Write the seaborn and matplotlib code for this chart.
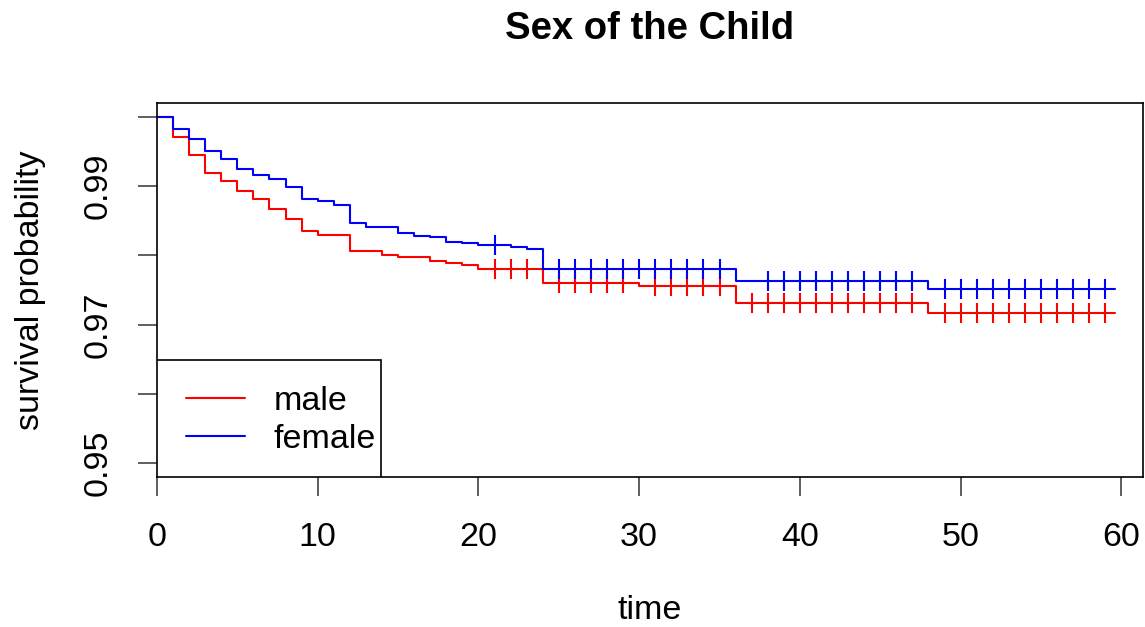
import numpy as np
import pandas as pd
import matplotlib
matplotlib.use("Agg")
import matplotlib.pyplot as plt
from matplotlib.patches import Rectangle
from matplotlib.lines import Line2D
import seaborn as sns

# ---- data ----
male_time = [0, 1, 2, 3, 4, 5, 6, 7, 8, 9, 10, 12, 14, 15, 17, 18, 19, 20, 24, 30, 36, 48, 59.6]
male_surv = [1.0, 0.99716, 0.99446, 0.99196, 0.99080, 0.98935, 0.98820, 0.98675, 0.98530,
             0.98357, 0.98295, 0.98064, 0.98006, 0.97972, 0.97914, 0.97888, 0.97860, 0.97800,
             0.97608, 0.97563, 0.97305, 0.97172, 0.97172]
male_censor = [21, 22, 23, 25, 26, 27, 28, 29, 31, 32, 33, 34, 35,
               37, 38, 39, 40, 41, 42, 43, 44, 45, 46, 47,
               49, 50, 51, 52, 53, 54, 55, 56, 57, 58, 59]

female_time = [0, 1, 2, 3, 4, 5, 6, 7, 8, 9, 10, 11, 12, 13, 15, 16, 17, 18, 19, 20, 22, 23, 24, 36, 48, 59.6]
female_surv = [1.0, 0.99822, 0.99678, 0.99509, 0.99389, 0.99244, 0.99157, 0.99104, 0.98984,
               0.98815, 0.98786, 0.98724, 0.98464, 0.98410, 0.98324, 0.98285, 0.98261, 0.98198,
               0.98172, 0.98145, 0.98120, 0.98090, 0.97799, 0.97628, 0.97510, 0.97510]
female_censor = [21, 25, 26, 27, 28, 29, 30, 31, 32, 33, 34, 35,
                 38, 39, 40, 41, 42, 43, 44, 45, 46, 47,
                 49, 50, 51, 52, 53, 54, 55, 56, 57, 58, 59]

groups = ["male", "female"]
colors = {"male": "#FF0000", "female": "#0000FF"}
x_ticks = [0, 10, 20, 30, 40, 50, 60]
y_ticks = [0.95, 0.96, 0.97, 0.98, 0.99, 1.00]
y_tick_labels = ["0.95", "", "0.97", "", "0.99", ""]
title = "Sex of the Child"
x_label = "time"
y_label = "survival probability"

# ---- build tables ----
curves = pd.concat([
    pd.DataFrame({"time": male_time, "surv": male_surv, "sex": "male"}),
    pd.DataFrame({"time": female_time, "surv": female_surv, "sex": "female"}),
], ignore_index=True)


def surv_at(times, survs, t):
    idx = np.searchsorted(times, t, side="right") - 1
    return np.asarray(survs)[idx]


censors = pd.concat([
    pd.DataFrame({"time": male_censor,
                  "surv": surv_at(male_time, male_surv, male_censor), "sex": "male"}),
    pd.DataFrame({"time": female_censor,
                  "surv": surv_at(female_time, female_surv, female_censor), "sex": "female"}),
], ignore_index=True)

# ---- plot ----
sns.set_theme(style="white")
plt.rcParams["font.family"] = ["Liberation Sans", "DejaVu Sans"]
plt.rcParams["text.color"] = "black"
plt.rcParams["axes.labelcolor"] = "black"
plt.rcParams["xtick.color"] = "black"
plt.rcParams["ytick.color"] = "black"

fig = plt.figure(figsize=(11.45, 6.27), dpi=100)
ax = fig.add_axes([0.1371, 0.2388, 0.8609, 0.5964])

for g in groups:
    sns.lineplot(data=curves[curves.sex == g], x="time", y="surv", ax=ax,
                 color=colors[g], drawstyle="steps-post", linewidth=1.5,
                 estimator=None, sort=False, legend=False)
    sns.scatterplot(data=censors[censors.sex == g], x="time", y="surv", ax=ax,
                    color=colors[g], marker="|", s=225, linewidth=1.5, legend=False)

ax.set_xlim(0, 61.33)
ax.set_ylim(0.94793, 1.00198)
ax.set_xticks(x_ticks)
ax.set_xticklabels([str(v) for v in x_ticks])
ax.set_yticks(y_ticks)
ax.set_yticklabels(y_tick_labels, rotation=90, va="center")

for s in ax.spines.values():
    s.set_color("black")
    s.set_linewidth(1.2)

ax.tick_params(axis="both", which="major", direction="out", length=13.5, width=1.1,
               color="#333333", labelsize=24.5, labelcolor="black", bottom=True, left=True)
ax.tick_params(axis="x", pad=19)
ax.tick_params(axis="y", pad=18)

ax.set_xlabel(x_label, fontsize=24.5, labelpad=30, color="black")
ax.set_ylabel(y_label, fontsize=24.5, labelpad=26, color="black")
ax.set_title(title, fontsize=27.5, fontweight="bold", pad=46, color="black")

# legend box like R's legend()
ax.add_patch(Rectangle((0, 0), 0.2273, 0.3136, transform=ax.transAxes,
                       facecolor="white", edgecolor="black", linewidth=1.2, zorder=5))
handles = [Line2D([], [], color=colors[g], linewidth=1.5) for g in groups]
leg = ax.legend(handles, groups, loc="upper left", bbox_to_anchor=(0.0091, 0.2976),
                frameon=False, fontsize=24.5, handlelength=1.72, handletextpad=0.84,
                labelspacing=0.2, borderpad=0.6, borderaxespad=0.0, labelcolor="black")
leg.set_zorder(6)

fig.savefig("out.png", dpi=100)
